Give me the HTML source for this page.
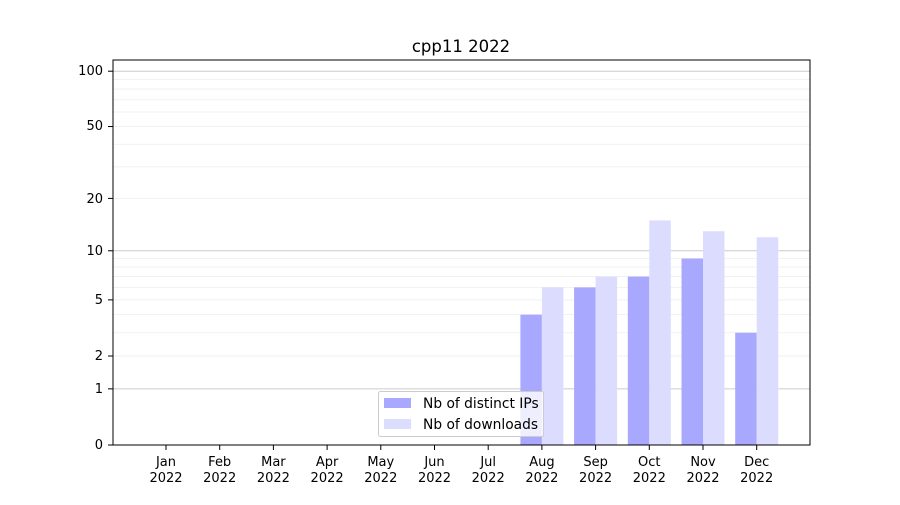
<!DOCTYPE html>
<html><head><meta charset="utf-8"><style>
body{margin:0;background:#fff}
svg text{font-family:"DejaVu Sans","Liberation Sans",sans-serif;font-size:13px;fill:#000}
</style></head><body>
<svg id="s" width="900" height="500" xmlns="http://www.w3.org/2000/svg">
<g id="grid"></g>
<g id="bars"></g>
<rect x="113" y="60" width="697" height="385" fill="none" stroke="#000" stroke-width="1"/>
<text x="461" y="52" text-anchor="middle" style="font-size:16.5px">cpp11 2022</text>
<g text-anchor="end">
<text x="103" y="449">0</text>
<text x="103" y="393">1</text>
<text x="103" y="360">2</text>
<text x="103" y="304">5</text>
<text x="103" y="255">10</text>
<text x="103" y="203">20</text>
<text x="103" y="130">50</text>
<text x="103" y="75">100</text>
</g>
<g id="yt"></g>
<g text-anchor="middle" id="xl">
<text x="166" y="466">Jan</text><text x="166" y="482">2022</text>
<text x="219.7" y="466">Feb</text><text x="219.7" y="482">2022</text>
<text x="273.4" y="466">Mar</text><text x="273.4" y="482">2022</text>
<text x="327.1" y="466">Apr</text><text x="327.1" y="482">2022</text>
<text x="380.8" y="466">May</text><text x="380.8" y="482">2022</text>
<text x="434.5" y="466">Jun</text><text x="434.5" y="482">2022</text>
<text x="488.2" y="466">Jul</text><text x="488.2" y="482">2022</text>
<text x="541.9" y="466">Aug</text><text x="541.9" y="482">2022</text>
<text x="595.6" y="466">Sep</text><text x="595.6" y="482">2022</text>
<text x="649.3" y="466">Oct</text><text x="649.3" y="482">2022</text>
<text x="703" y="466">Nov</text><text x="703" y="482">2022</text>
<text x="756.7" y="466">Dec</text><text x="756.7" y="482">2022</text>
</g>
<g id="xt"></g>
<rect x="378.5" y="391.5" width="165" height="45" rx="2" fill="#fff" fill-opacity="0.8" stroke="#ccc"/>
<rect x="384" y="398" width="27" height="10" fill="#a8a8ff"/>
<rect x="384" y="419" width="27" height="10" fill="#dcdcff"/>
<text x="423" y="408" style="font-size:13.8px">Nb of distinct IPs</text>
<text x="423" y="429" style="font-size:13.8px">Nb of downloads</text>
</svg>
<script>
var NS="http://www.w3.org/2000/svg";
function y(v){return 445-186.5*Math.log10(1+v);}
function el(p,t,a){var e=document.createElementNS(NS,t);for(var k in a)e.setAttribute(k,a[k]);document.getElementById(p).appendChild(e);}
[1,10,100].forEach(function(v){el("grid","line",{x1:113,x2:810,y1:y(v),y2:y(v),stroke:"#ccc","stroke-width":1});});
[2,3,4,5,6,7,8,9,20,30,40,50,60,70,80,90].forEach(function(v){el("grid","line",{x1:113,x2:810,y1:y(v),y2:y(v),stroke:"#eee","stroke-width":0.8});});
[0,1,2,5,10,20,50,100].forEach(function(v){el("yt","line",{x1:108,x2:113,y1:y(v),y2:y(v),stroke:"#000"});});
for(var i=0;i<12;i++){var c=166+53.7*i;el("xt","line",{x1:c,x2:c,y1:445,y2:450,stroke:"#000"});}
var d=[[7,4,6],[8,6,7],[9,7,15],[10,9,13],[11,3,12]];
d.forEach(function(r){var c=166+53.7*r[0];
el("bars","rect",{x:c-21.5,y:y(r[1]),width:21.5,height:445-y(r[1]),fill:"#a8a8ff"});
el("bars","rect",{x:c,y:y(r[2]),width:21.5,height:445-y(r[2]),fill:"#dcdcff"});});
</script>
</body></html>
